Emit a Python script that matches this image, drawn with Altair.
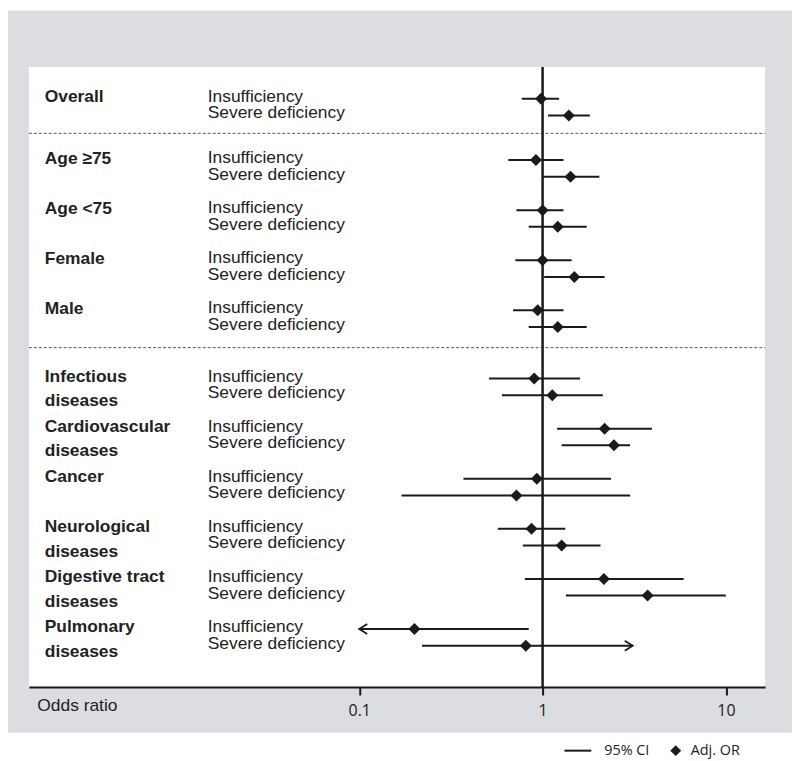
import altair as alt
import pandas as pd

# ---------------- data ----------------
groups = [
    "Overall", "Age ≥75", "Age <75", "Female", "Male",
    "Infectious\ndiseases", "Cardiovascular\ndiseases", "Cancer",
    "Neurological\ndiseases", "Digestive tract\ndiseases", "Pulmonary\ndiseases",
]
sections = [0, 1, 1, 1, 1, 2, 2, 2, 2, 2, 2]
subgroups = ["Insufficiency", "Severe deficiency"]

or_insuff = [0.98, 0.92, 1.00, 1.00, 0.94, 0.90, 2.18, 0.93, 0.87, 2.16, 0.20]
lo_insuff = [0.77, 0.65, 0.72, 0.71, 0.69, 0.51, 1.20, 0.37, 0.57, 0.80, 0.10]
hi_insuff = [1.23, 1.30, 1.30, 1.44, 1.30, 1.60, 3.95, 2.36, 1.33, 5.88, 0.84]

or_severe = [1.39, 1.42, 1.21, 1.49, 1.21, 1.13, 2.45, 0.72, 1.27, 3.74, 0.81]
lo_severe = [1.07, 1.00, 0.84, 1.02, 0.84, 0.60, 1.27, 0.17, 0.78, 1.34, 0.22]
hi_severe = [1.81, 2.04, 1.74, 2.18, 1.74, 2.13, 3.00, 3.00, 2.07, 9.98, 3.10]

# CI truncated beyond the display (drawn as arrows)
insuff_lo_arrow = [False] * 10 + [True]
severe_hi_arrow = [False] * 10 + [True]

tick_values = [0.1, 1, 10]

# ---------------- layout ----------------
W, H = 741, 624
SECTION_EXTRA = [0.0, 0.67, 1.76]
GRAY = "#dcdde0"
INK = "#1a1a1a"
TXT = "#222222"
SANS = "Liberation Sans"

rows = []
series = [
    (or_insuff, lo_insuff, hi_insuff, insuff_lo_arrow, [False] * len(groups)),
    (or_severe, lo_severe, hi_severe, [False] * len(groups), severe_hi_arrow),
]
for g, name in enumerate(groups):
    for k, sub in enumerate(subgroups):
        o, lo, hi, la, ha = series[k]
        rows.append({
            "group": name, "sub": sub, "or": o[g], "lo": lo[g], "hi": hi[g],
            "lo_arrow": la[g], "hi_arrow": ha[g], "first": k == 0,
            "slot": 3 * g + k + SECTION_EXTRA[sections[g]],
        })
df = pd.DataFrame(rows)

# separator positions between sections
seps = []
for g in range(1, len(groups)):
    if sections[g] != sections[g - 1]:
        prev = 3 * (g - 1) + 1 + SECTION_EXTRA[sections[g - 1]]
        nxt = 3 * g + SECTION_EXTRA[sections[g]]
        seps.append({"slot": prev + 0.4 * (nxt - prev)})
sep_df = pd.DataFrame(seps)
one = pd.DataFrame({"k": [0]})
ref_df = pd.DataFrame({"v": [1]})

xscale = alt.Scale(type="log", domain=[0.001577, 16.37], nice=False)
yscale = alt.Scale(domain=[-1.905, 35.24], reverse=True, nice=False, zero=False)
xaxis = alt.Axis(
    values=tick_values, format="~g", grid=False, zindex=1,
    domainColor=INK, domainWidth=2, tickColor=INK, tickWidth=2, tickSize=8,
    labelFont="Open Sans", labelFontSize=16, labelColor=TXT, labelPadding=8,
    labelFlush=False,
    title="Odds ratio", titleX=8, titleY=19, titleAlign="left",
    titleBaseline="middle", titleFont=SANS, titleFontSize=17.5,
    titleFontWeight="normal", titleColor=TXT, titleAngle=0,
)

bg = alt.Chart(one).mark_rect(color=GRAY).encode(
    x=alt.value(-21), x2=alt.value(768), y=alt.value(-57), y2=alt.value(670))
panel = alt.Chart(one).mark_rect(color="white").encode(
    x=alt.value(0), x2=alt.value(W), y=alt.value(0), y2=alt.value(H))

sep = alt.Chart(sep_df).mark_rule(color="#555555", strokeWidth=1, strokeDash=[3, 2]).encode(
    y=alt.Y("slot:Q", scale=yscale, axis=None), x=alt.value(0), x2=alt.value(W))

ref = alt.Chart(ref_df).mark_rule(color=INK, strokeWidth=2.5).encode(
    x=alt.X("v:Q", scale=xscale, axis=xaxis), y=alt.value(0), y2=alt.value(H))

ci = alt.Chart(df).mark_rule(color=INK, strokeWidth=2).encode(
    x=alt.X("lo:Q", scale=xscale, axis=xaxis), x2="hi:Q",
    y=alt.Y("slot:Q", scale=yscale, axis=None))

left_arrow = alt.Chart(df).transform_filter("datum.lo_arrow").mark_point(
    shape="M1.6,-1L0,0L1.6,1", filled=False, size=100, strokeWidth=1.8, color=INK, opacity=1
).encode(x=alt.X("lo:Q", scale=xscale, axis=xaxis), y=alt.Y("slot:Q", scale=yscale, axis=None))

right_arrow = alt.Chart(df).transform_filter("datum.hi_arrow").mark_point(
    shape="M-1.6,-1L0,0L-1.6,1", filled=False, size=100, strokeWidth=1.8, color=INK, opacity=1
).encode(x=alt.X("hi:Q", scale=xscale, axis=xaxis), y=alt.Y("slot:Q", scale=yscale, axis=None))

diamonds = alt.Chart(df).mark_point(
    shape="diamond", filled=True, size=145, color=INK, opacity=1
).encode(x=alt.X("or:Q", scale=xscale, axis=xaxis), y=alt.Y("slot:Q", scale=yscale, axis=None))

sub_labels = alt.Chart(df).mark_text(
    align="left", baseline="middle", font=SANS, fontSize=17.5, color=TXT, dy=-2
).encode(x=alt.value(180), y=alt.Y("slot:Q", scale=yscale, axis=None), text="sub:N")

group_labels = alt.Chart(df).transform_filter("datum.first").mark_text(
    align="left", baseline="alphabetic", font=SANS, fontSize=17.5, fontWeight="bold",
    color=TXT, lineBreak="\n", lineHeight=24.5, dy=3.5
).encode(x=alt.value(16), y=alt.Y("slot:Q", scale=yscale, axis=None), text="group:N")

LEG_Y = 688
leg_line = alt.Chart(one).mark_rule(color=INK, strokeWidth=2).encode(
    x=alt.value(539), x2=alt.value(566), y=alt.value(LEG_Y))
leg_ci = alt.Chart(one).mark_text(
    text="95% CI", align="left", baseline="middle", font="Open Sans", fontSize=14.5, color=TXT
).encode(x=alt.value(579), y=alt.value(LEG_Y))
leg_dia = alt.Chart(one).mark_point(shape="diamond", filled=True, size=120, color=INK, opacity=1).encode(
    x=alt.value(651), y=alt.value(LEG_Y))
leg_or = alt.Chart(one).mark_text(
    text="Adj. OR", align="left", baseline="middle", font="Open Sans", fontSize=14.5, color=TXT
).encode(x=alt.value(666), y=alt.value(LEG_Y))

chart = alt.layer(
    bg, panel, sep, ref, ci, left_arrow, right_arrow, diamonds,
    sub_labels, group_labels, leg_line, leg_ci, leg_dia, leg_or,
).properties(
    width=W, height=H,
    autosize=alt.AutoSizeParams(type="none"),
    padding={"left": 21, "top": 57, "right": 27, "bottom": 70},
    background="white",
).configure_view(stroke=None)

chart.save("out.html", embed_options={"renderer": "svg", "actions": False})
